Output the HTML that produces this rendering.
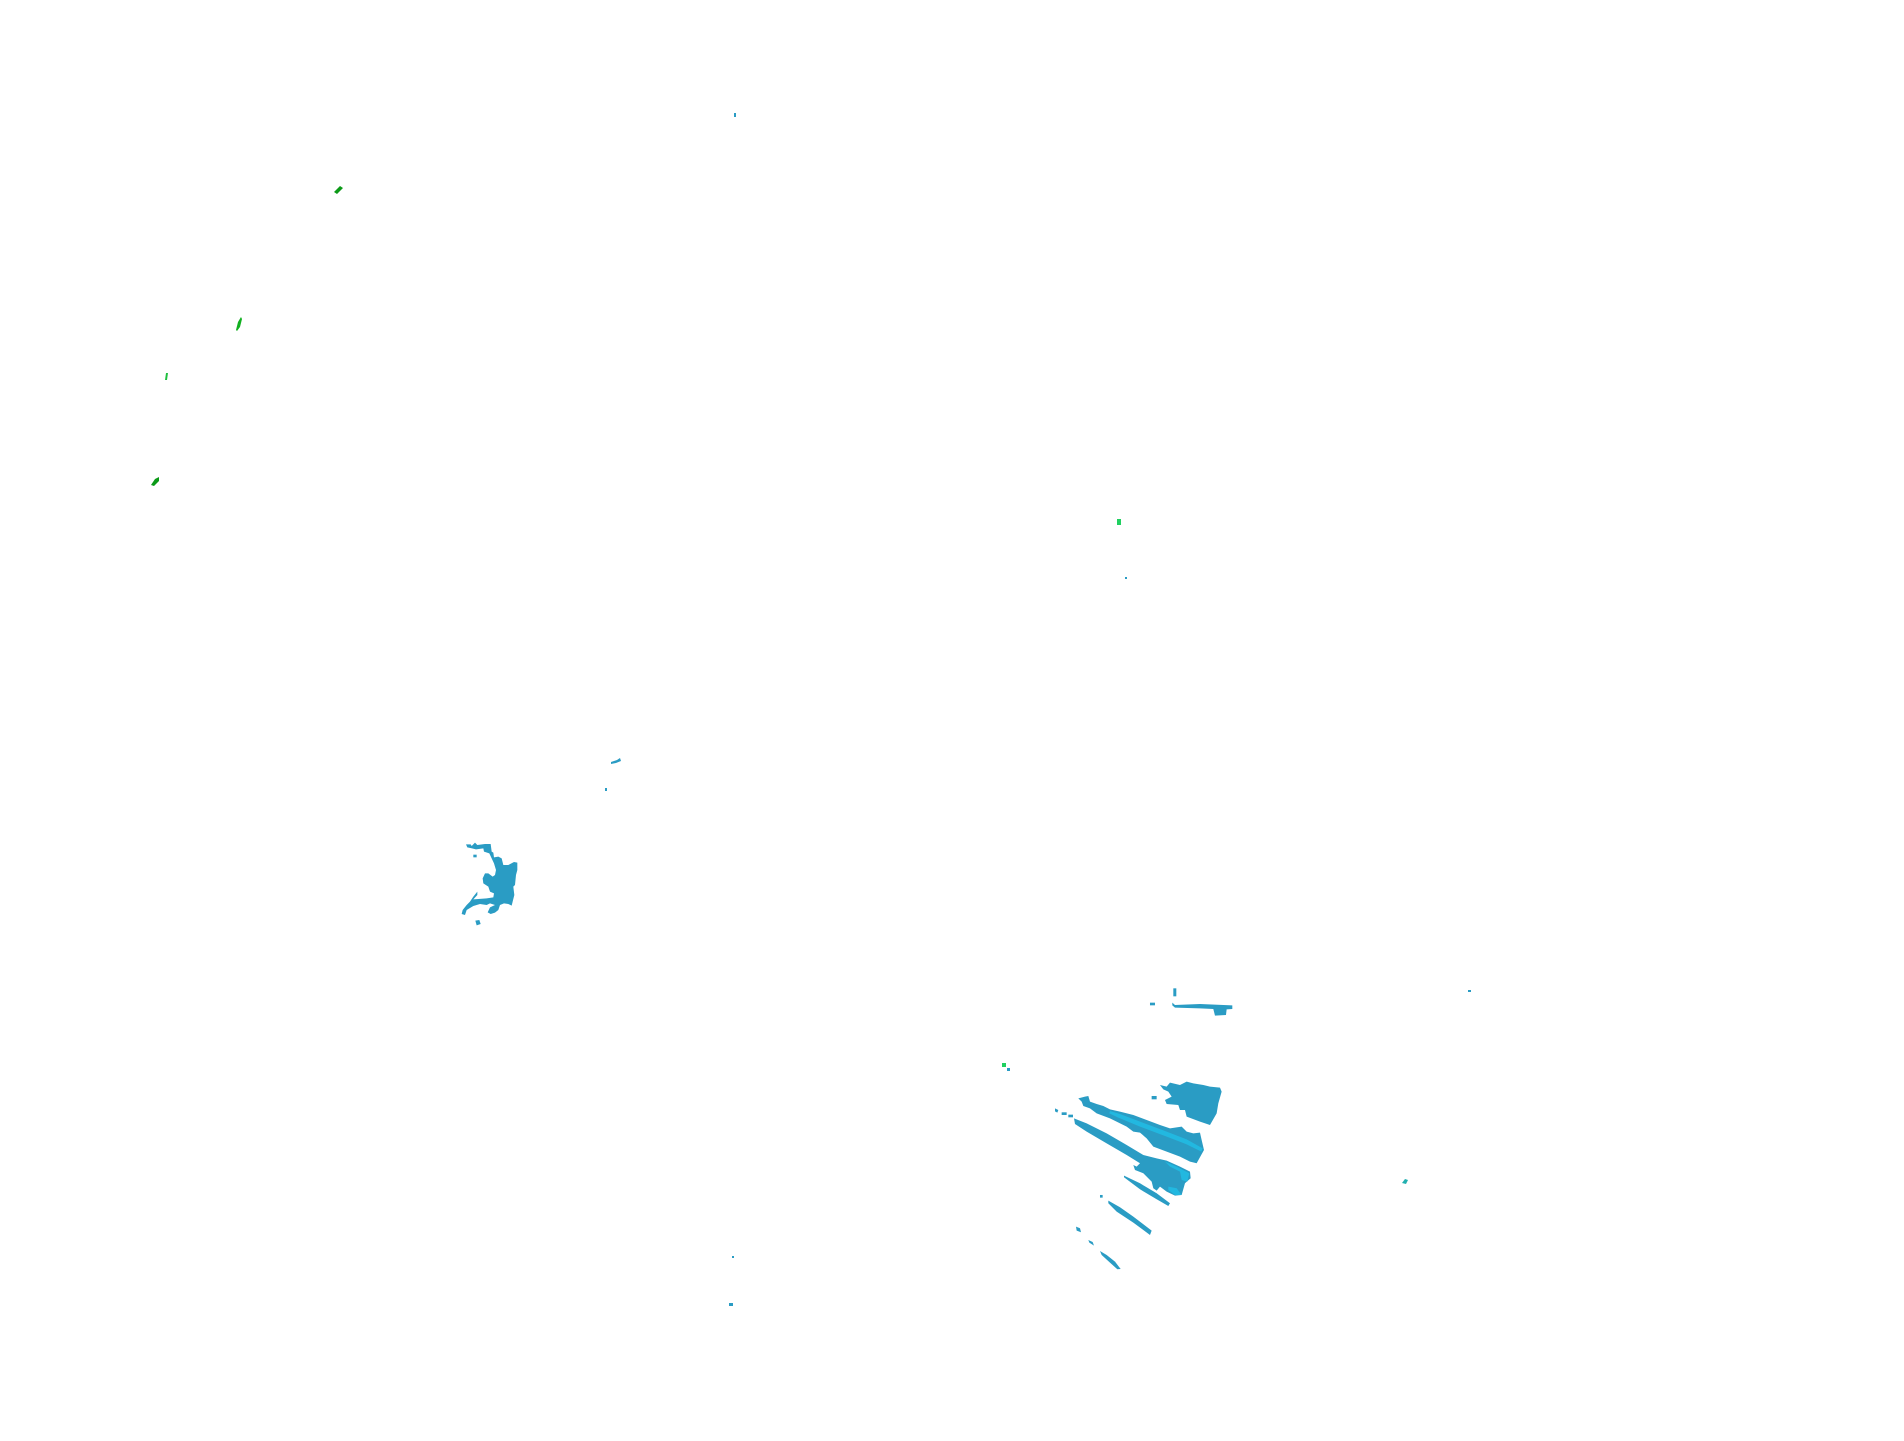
<!DOCTYPE html>
<html><head><meta charset="utf-8"><style>html,body{margin:0;padding:0;background:#fff;width:1904px;height:1441px;overflow:hidden}</style></head>
<body>
<svg width="1904" height="1441" viewBox="0 0 1904 1441" xmlns="http://www.w3.org/2000/svg">
<g fill="#2a9cc4">
<rect x="734" y="113" width="2" height="4"/>
<rect x="1125" y="577" width="2" height="2"/>
<path d="M611 762 l6 -2 l3 -2 l1 3 l-5 2 l-5 1z"/>
<rect x="605" y="788" width="2" height="3"/>
<rect x="1007" y="1068" width="3" height="3"/>
<rect x="1468" y="990" width="3" height="2"/>
<path d="M1402 1183 l3 -4 l3 1 l-2 4z" fill="#22b0b0"/>
<rect x="732" y="1256" width="2" height="2"/>
<rect x="729" y="1303" width="4" height="3"/>
</g>
<g fill="#12b020">
<path d="M334 192 l6 -6 l3 2 l-6 6z" fill="#0c9a18"/>
<path d="M236 330 l2 -8 l3 -5 l1 2 l-2 8 l-3 4z"/>
<path d="M165 380 l1 -7 l2 0 l-1 7z" fill="#20c040"/>
<path d="M151 485 l4 -6 l4 -2 l0 4 l-5 5z" fill="#0c9a18"/>
<rect x="1117" y="519" width="4" height="6" fill="#20d060"/>
</g>
<g transform="translate(1000,950) scale(0.3333)" fill="#2a9cc4">
<rect x="520" y="115" width="9" height="24"/>
<rect x="450" y="158" width="15" height="8"/>
<path d="M517 158 L525 165 L600 162 L697 166 L697 177 L680 178 L678 195 L645 197 L640 177 L600 175 L525 173 L517 166Z"/>
<path d="M480 405 L500 410 L510 398 L540 405 L560 395 L580 400 L610 405 L630 410 L660 413 L665 425 L655 460 L650 490 L630 525 L600 515 L560 500 L555 480 L540 480 L535 465 L500 462 L495 450 L515 440 L505 425 L490 418Z"/>
<rect x="455" y="438" width="15" height="10"/>
<path d="M235 445 L255 440 L265 438 L270 455 L290 462 L310 468 L330 478 L360 485 L400 495 L440 510 L480 525 L510 535 L545 530 L560 545 L580 550 L600 548 L605 570 L612 600 L590 640 L570 635 L540 620 L500 605 L460 590 L440 565 L420 548 L400 545 L380 530 L330 505 L290 490 L270 475 L250 468 L245 455Z"/>
<path d="M165 475 L175 480 L172 488 L165 484Z"/>
<rect x="185" y="487" width="15" height="8"/>
<rect x="205" y="494" width="14" height="8"/>
<path d="M222 505 L260 520 L320 550 L380 585 L430 615 L470 625 L500 632 L540 650 L570 665 L572 685 L555 700 L545 735 L525 737 L500 725 L480 710 L470 722 L460 715 L455 695 L430 670 L405 660 L400 645 L410 650 L420 640 L380 615 L320 580 L260 545 L225 522Z"/>
<path d="M372 677 L420 700 L470 730 L510 760 L505 768 L470 748 L420 718 L372 682Z"/>
<rect x="300" y="735" width="8" height="8"/>
<path d="M325 752 L360 772 L400 800 L455 842 L450 855 L400 818 L350 785 L325 760Z"/>
<path d="M228 830 L240 835 L243 847 L230 842Z"/>
<path d="M265 870 L278 876 L282 887 L268 878Z"/>
<path d="M300 903 L320 915 L345 935 L362 957 L352 958 L330 938 L305 915Z"/>
</g>
<g fill="#22b8e0" transform="translate(1000,950) scale(0.3333)">
<path d="M330 483 L360 492 L420 515 L500 545 L560 568 L608 595 L604 605 L560 583 L500 560 L420 530 L355 503 L328 490Z"/>
<path d="M495 635 L530 650 L568 670 L562 695 L545 690 L540 665 L510 650Z"/>
<path d="M505 710 L530 715 L545 735 L525 735 L505 720Z"/>
</g>
<rect x="1002" y="1063" width="4" height="4" fill="#20d060"/>
<g transform="translate(440,820) scale(0.3333)" fill="#2a9cc4">
<path d="M78 73 L92 73 L95 78 L105 68 L112 75 L135 72 L152 72 L155 95 L160 98 L162 112 L175 110 L185 115 L190 135 L205 135 L222 126 L232 128 L232 150 L228 165 L225 195 L220 200 L223 225 L218 245 L215 257 L205 252 L192 250 L180 255 L175 270 L165 278 L152 282 L143 277 L150 262 L165 255 L150 250 L140 255 L120 252 L100 258 L80 270 L75 285 L65 282 L68 270 L80 255 L90 245 L100 230 L112 215 L112 225 L100 238 L140 235 L160 232 L162 220 L150 215 L145 200 L130 190 L128 175 L135 160 L145 160 L158 170 L165 165 L168 150 L162 130 L155 115 L148 100 L132 95 L130 85 L108 88 L96 85 L82 82Z"/>
<rect x="100" y="104" width="10" height="8"/>
<path d="M106 302 L118 300 L122 312 L110 316Z"/>
</g>
<rect x="635" y="832" width="10" height="8" fill="#fff"/>
</svg>
</body></html>
